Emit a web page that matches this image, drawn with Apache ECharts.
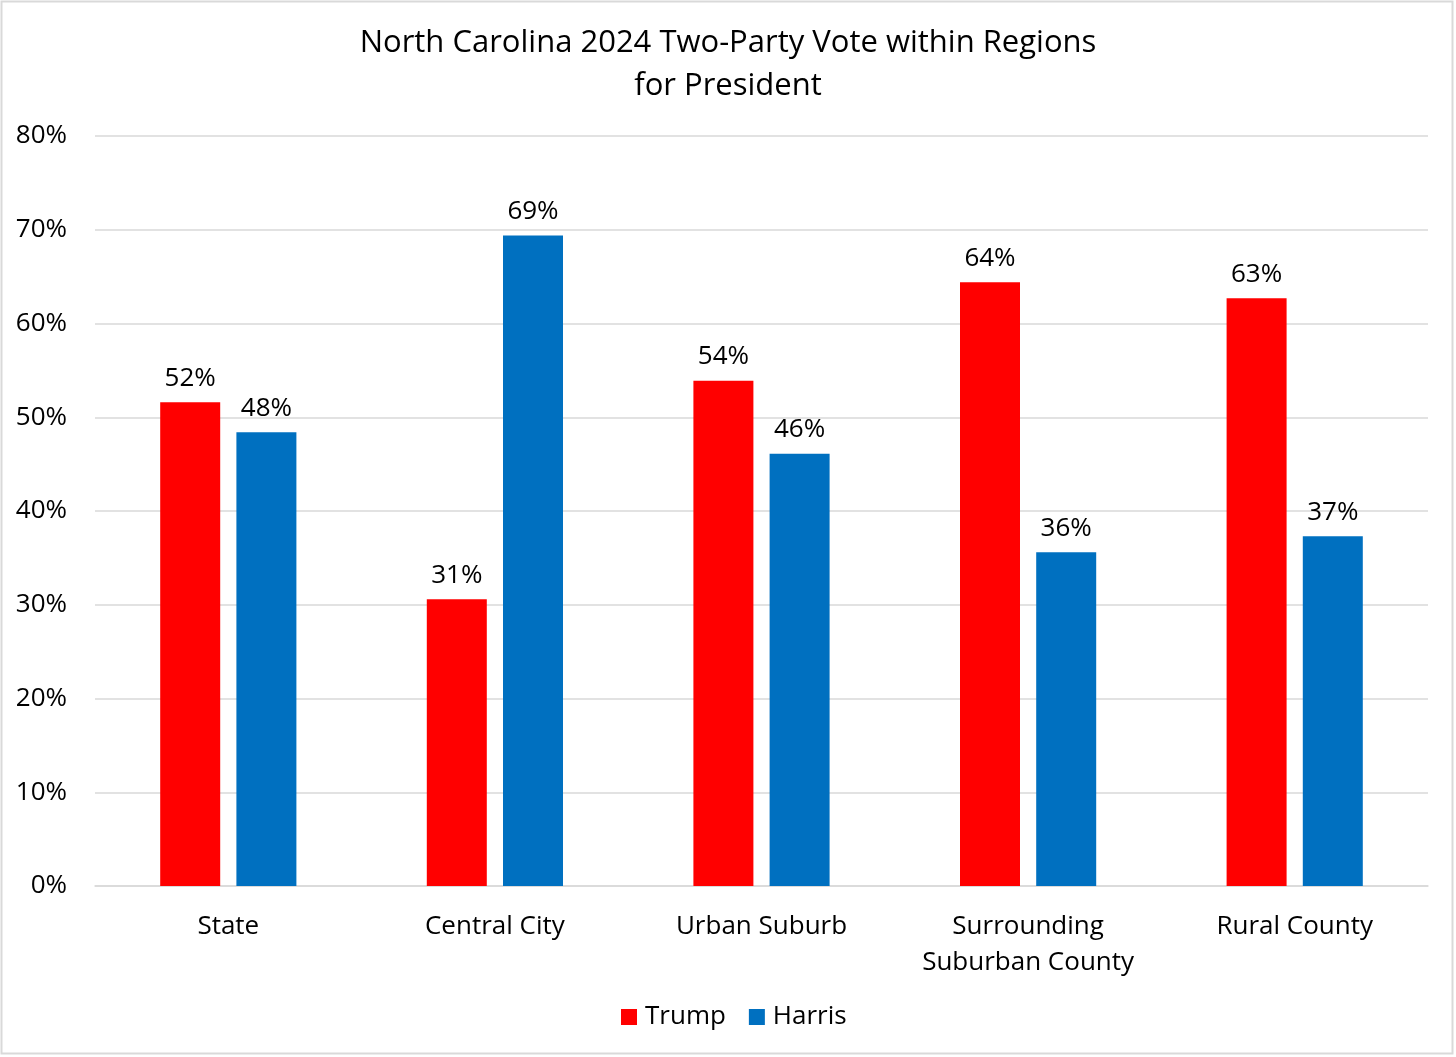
<!DOCTYPE html>
<html>
<head>
<meta charset="utf-8">
<script src="https://cdn.jsdelivr.net/npm/echarts@6/dist/echarts.min.js"></script>
<style>
html,body{margin:0;padding:0;background:#fff;}
#chart{width:1456px;height:1057px;}
</style>
</head>
<body>
<div id="chart"></div>
<script>
const categories = ['State', 'Central City', 'Urban Suburb', 'Surrounding\nSuburban County', 'Rural County'];
const trump = [51.6, 30.6, 53.9, 64.4, 62.7];
const harris = [48.4, 69.4, 46.1, 35.6, 37.3];
const yTicks = [0, 10, 20, 30, 40, 50, 60, 70, 80];

const FONT = 'Open Sans';
const chart = echarts.init(document.getElementById('chart'));
chart.setOption({
  animation: false,
  backgroundColor: '#fff',
  textStyle: { fontFamily: FONT },
  title: {
    text: 'North Carolina 2024 Two-Party Vote within Regions\nfor President',
    left: 'center',
    top: 17,
    textStyle: { fontFamily: FONT, fontSize: 31, fontWeight: 'normal', color: '#000', lineHeight: 43 }
  },
  legend: {
    bottom: 22,
    left: 616,
    itemWidth: 16,
    itemHeight: 16,
    itemGap: 23,
    icon: 'rect',
    textStyle: { fontFamily: FONT, fontSize: 26, color: '#000', padding: [0, 0, 0, 3] },
    data: ['Trump', 'Harris']
  },
  grid: { left: 95, right: 28, top: 136, bottom: 171, containLabel: false },
  xAxis: {
    type: 'category',
    data: categories,
    axisLine: { lineStyle: { color: '#d9d9d9', width: 1.5 } },
    axisTick: { show: false },
    axisLabel: { fontFamily: FONT, fontSize: 26, color: '#000', margin: 23, lineHeight: 36, interval: 0 }
  },
  yAxis: {
    type: 'value',
    min: 0,
    max: 80,
    interval: 10,
    axisLine: { show: false },
    axisTick: { show: false },
    splitLine: { lineStyle: { color: '#d9d9d9', width: 1.5 } },
    axisLabel: { fontFamily: FONT, fontSize: 26, color: '#000', margin: 28,
      formatter: v => yTicks.includes(v) ? v + '%' : '' }
  },
  series: [
    {
      name: 'Trump', type: 'bar', data: trump, barWidth: 60, barGap: '27%',
      itemStyle: { color: '#FF0000' },
      label: { show: true, position: 'top', distance: 11, fontFamily: FONT, fontSize: 26, color: '#000',
        formatter: p => Math.round(p.value) + '%' }
    },
    {
      name: 'Harris', type: 'bar', data: harris, barWidth: 60, barGap: '27%',
      itemStyle: { color: '#0070C0' },
      label: { show: true, position: 'top', distance: 11, fontFamily: FONT, fontSize: 26, color: '#000',
        formatter: p => Math.round(p.value) + '%' }
    }
  ],
  graphic: [{
    type: 'rect', shape: { x: 1.5, y: 1.5, width: 1451, height: 1052 },
    style: { fill: 'none', stroke: '#d9d9d9', lineWidth: 2 }, silent: true
  }]
});
</script>
</body>
</html>
